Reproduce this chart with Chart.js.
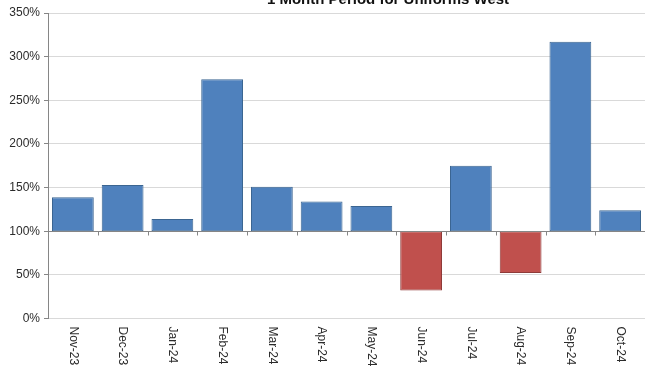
<!DOCTYPE html>
<html>
<head>
<meta charset="utf-8">
<script src="https://cdn.jsdelivr.net/npm/chart.js@4/dist/chart.umd.min.js"></script>
<style>
  html, body { margin: 0; padding: 0; background: #fff; overflow: hidden; }
  canvas { display: block; }
</style>
</head>
<body>
<canvas id="chart" width="645" height="374"></canvas>
<script>
// Monthly ratio against the 100% reference level
const months = ['Nov-23', 'Dec-23', 'Jan-24', 'Feb-24', 'Mar-24', 'Apr-24',
                'May-24', 'Jun-24', 'Jul-24', 'Aug-24', 'Sep-24', 'Oct-24'];
const ratioPct = [139, 153, 114, 274, 151, 134, 129, 32, 175, 52, 317, 124];
const basePct = 100;
const yTickValues = [0, 50, 100, 150, 200, 250, 300, 350];
const titleText = '1 Month Period for Uniforms West';

const FONT = "'Liberation Sans', Arial, sans-serif";
Chart.defaults.font.family = FONT;
Chart.defaults.font.size = 12;
Chart.defaults.color = '#333333';

// Draws the category axis along the 100% line, its tick marks, the rotated month labels and the title
const axisPlugin = {
  id: 'baseAxis',
  afterDatasetsDraw(chart) {
    const { ctx, chartArea, scales } = chart;
    const x = scales.x, y = scales.y;
    const yb = Math.round(y.getPixelForValue(basePct)) + 0.5;
    ctx.save();
    ctx.strokeStyle = '#868686';
    ctx.lineWidth = 1;
    ctx.beginPath();
    ctx.moveTo(chartArea.left, yb);
    ctx.lineTo(chartArea.right, yb);
    const step = x.getPixelForValue(1) - x.getPixelForValue(0);
    for (let i = 0; i <= months.length; i++) {
      const px = Math.round(x.getPixelForValue(i) - step / 2) + 0.5;
      ctx.moveTo(px, yb);
      ctx.lineTo(px, yb + 4);
    }
    ctx.stroke();
    ctx.restore();
  },
  afterDraw(chart) {
    const { ctx, chartArea, scales } = chart;
    const x = scales.x;
    ctx.save();
    ctx.fillStyle = '#2b2b2b';
    ctx.font = '12px ' + FONT;
    ctx.textAlign = 'left';
    ctx.textBaseline = 'middle';
    months.forEach((m, i) => {
      const px = x.getPixelForValue(i);
      ctx.save();
      ctx.translate(px, chartArea.bottom + 8);
      ctx.rotate(Math.PI / 2);
      ctx.fillText(m, 0, 0);
      ctx.restore();
    });
    ctx.fillStyle = '#111111';
    ctx.font = 'bold 15px ' + FONT;
    ctx.textAlign = 'center';
    ctx.textBaseline = 'alphabetic';
    ctx.fillText(titleText, 388, 4);
    ctx.restore();
  }
};

new Chart(document.getElementById('chart'), {
  type: 'bar',
  data: {
    labels: months,
    datasets: [{
      data: ratioPct.map(v => [basePct, v]),
      backgroundColor: ratioPct.map(v => v >= basePct ? '#4F81BD' : '#C0504D'),
      borderColor: ratioPct.map(v => v >= basePct ? '#3B6591' : '#8E3B39'),
      borderWidth: 1,
      borderSkipped: false,
      barPercentage: 0.84,
      categoryPercentage: 1.0
    }]
  },
  options: {
    responsive: false,
    animation: false,
    devicePixelRatio: 1,
    layout: { padding: { top: 13, right: 0, left: 0, bottom: 0 } },
    plugins: {
      legend: { display: false },
      tooltip: { enabled: false },
      title: { display: false }
    },
    scales: {
      x: {
        grid: { display: false },
        border: { display: false },
        ticks: { display: false },
        afterFit(scale) { scale.height = 55.5; }
      },
      y: {
        min: 0,
        max: 350,
        afterBuildTicks(scale) { scale.ticks = yTickValues.map(v => ({ value: v })); },
        ticks: {
          callback: v => v + '%',
          padding: 4,
          color: '#2b2b2b',
          font: { size: 12 }
        },
        grid: { color: '#d9d9d9', tickLength: 4, tickColor: '#868686' },
        border: { color: '#868686' },
        afterFit(scale) { scale.width = 48; }
      }
    }
  },
  plugins: [axisPlugin]
});
</script>
</body>
</html>
